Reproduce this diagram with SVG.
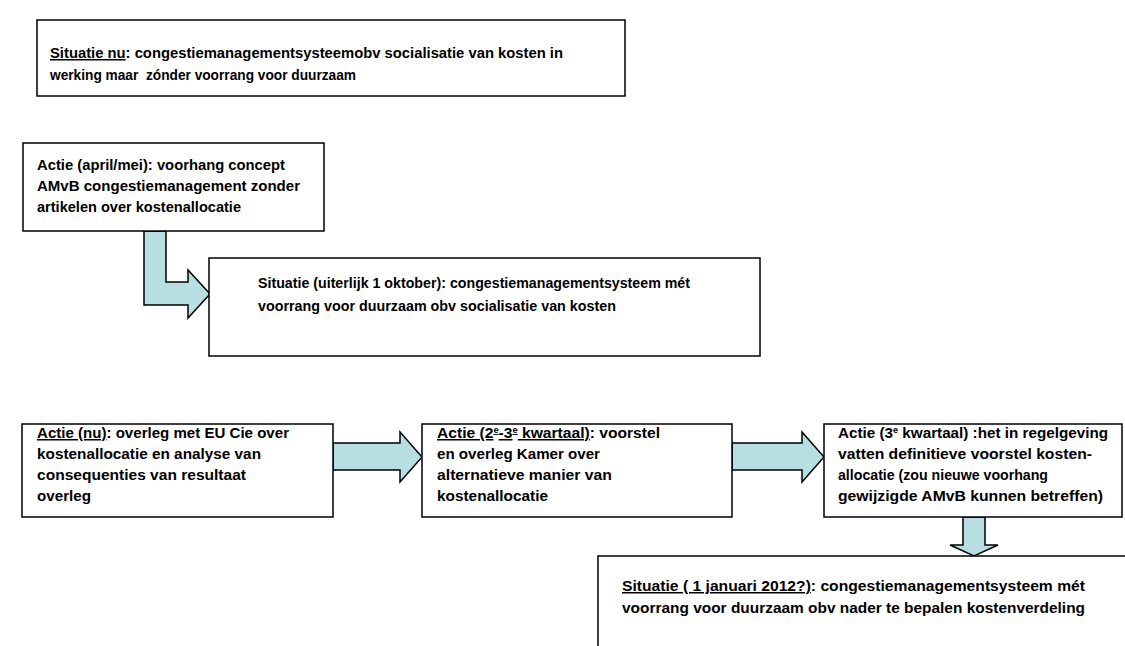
<svg xmlns="http://www.w3.org/2000/svg" width="1125" height="646" viewBox="0 0 1125 646">
<style>
.box{fill:#fff;stroke:#000;stroke-width:1.5}
.arr{fill:#B7DFE1;stroke:#000;stroke-width:1.5;stroke-linejoin:miter}
text{font-family:"Liberation Sans",Arial,sans-serif;font-size:15px;font-weight:bold;fill:#000}
.u{text-decoration:underline}
</style>
<rect width="1125" height="646" fill="#fff"/>
<g id="connectors">
<path class="arr" d="M144,231 H166 V282 H188 V270 L210,294 L188,318 V305 H144 Z"/>
<path class="arr" d="M333,443 H400 V432 L422,457 L400,482 V470 H333 Z"/>
<path class="arr" d="M732,443 H802 V432 L824,457 L802,482 V470 H732 Z"/>
<path class="arr" d="M963,517 H985 V545 H998 L974,556 L950,545 H963 Z"/>
</g>
<g id="n1">
<rect class="box" x="37" y="20" width="588" height="76"/>
<text x="50" y="58" textLength="513" lengthAdjust="spacingAndGlyphs"><tspan class="u">Situatie nu</tspan>: congestiemanagementsysteemobv socialisatie van kosten in</text>
<text x="50" y="80" textLength="306" lengthAdjust="spacingAndGlyphs">werking maar&#160; zónder voorrang voor duurzaam</text>
</g>
<g id="n2">
<rect class="box" x="23" y="143" width="301" height="88"/>
<text x="37" y="170" textLength="248" lengthAdjust="spacingAndGlyphs">Actie (april/mei): voorhang concept</text>
<text x="37" y="191" textLength="263" lengthAdjust="spacingAndGlyphs">AMvB congestiemanagement zonder</text>
<text x="37" y="212" textLength="204" lengthAdjust="spacingAndGlyphs">artikelen over kostenallocatie</text>
</g>
<g id="n3">
<rect class="box" x="209" y="258" width="551" height="98"/>
<text x="258" y="288" textLength="432" lengthAdjust="spacingAndGlyphs">Situatie (uiterlijk 1 oktober): congestiemanagementsysteem mét</text>
<text x="258" y="311" textLength="358" lengthAdjust="spacingAndGlyphs">voorrang voor duurzaam obv socialisatie van kosten</text>
</g>
<g id="n4">
<rect class="box" x="22" y="424" width="311" height="93"/>
<text x="37" y="438" textLength="252" lengthAdjust="spacingAndGlyphs"><tspan class="u">Actie (nu)</tspan>: overleg met EU Cie over</text>
<text x="37" y="459" textLength="224" lengthAdjust="spacingAndGlyphs">kostenallocatie en analyse van</text>
<text x="37" y="480" textLength="209" lengthAdjust="spacingAndGlyphs">consequenties van resultaat</text>
<text x="37" y="501" textLength="54" lengthAdjust="spacingAndGlyphs">overleg</text>
</g>
<g id="n5">
<rect class="box" x="422" y="424" width="310" height="93"/>
<text x="437" y="438" textLength="223" lengthAdjust="spacingAndGlyphs"><tspan class="u">Actie (2<tspan font-size="9" baseline-shift="super">e</tspan>-3<tspan font-size="9" baseline-shift="super">e</tspan> kwartaal)</tspan>: voorstel</text>
<text x="437" y="459" textLength="163" lengthAdjust="spacingAndGlyphs">en overleg Kamer over</text>
<text x="437" y="480" textLength="175" lengthAdjust="spacingAndGlyphs">alternatieve manier van</text>
<text x="437" y="501" textLength="111" lengthAdjust="spacingAndGlyphs">kostenallocatie</text>
</g>
<g id="n6">
<rect class="box" x="824" y="424" width="298" height="93"/>
<text x="838" y="438" textLength="270" lengthAdjust="spacingAndGlyphs">Actie (3<tspan font-size="9" baseline-shift="super">e</tspan> kwartaal) :het in regelgeving</text>
<text x="838" y="459" textLength="254" lengthAdjust="spacingAndGlyphs">vatten definitieve voorstel kosten-</text>
<text x="838" y="480" textLength="210" lengthAdjust="spacingAndGlyphs">allocatie (zou nieuwe voorhang</text>
<text x="838" y="501" textLength="265" lengthAdjust="spacingAndGlyphs">gewijzigde AMvB kunnen betreffen)</text>
</g>
<g id="n7">
<rect class="box" x="598" y="556" width="540" height="100"/>
<text x="622" y="591" textLength="463" lengthAdjust="spacingAndGlyphs"><tspan class="u">Situatie ( 1 januari 2012?)</tspan>: congestiemanagementsysteem mét</text>
<text x="622" y="613" textLength="463" lengthAdjust="spacingAndGlyphs">voorrang voor duurzaam obv nader te bepalen kostenverdeling</text>
</g>
</svg>
